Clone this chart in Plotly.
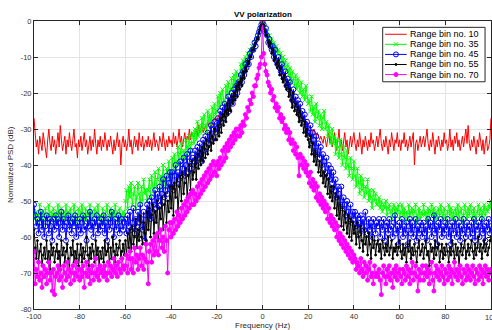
import plotly.graph_objects as go

# ---------------- data ----------------
freq_hz = [-100 + 0.5 * i for i in range(401)]

x_tick_vals = [-100, -80, -60, -40, -20, 0, 20, 40, 60, 80]
x_tick_text = ["-100", "-80", "-60", "-40", "-20", "0", "20", "40", "60", "80"]
x_last_tick = 100
x_last_tick_text = "100"
y_tick_vals = [0, -10, -20, -30, -40, -50, -60, -70, -80]
y_tick_text = ["0", "-10", "-20", "-30", "-40", "-50", "-60", "-70", "-80"]

series_names = ["Range bin no. 10", "Range bin no. 35", "Range bin no. 45",
                "Range bin no. 55", "Range bin no. 70"]

psd_bin10 = [
    -27, -31, -35, -33, -37, -32, -34, -36, -31, -33, -35, -38, -33, -30, -34, -36, -32, -35, -33, -37,
    -34, -31, -35, -29, -33, -36, -34, -32, -37, -33, -35, -31, -34, -36, -33, -30, -35, -34, -38, -33,
    -35, -32, -36, -34, -31, -35, -33, -37, -34, -32, -36, -33, -35, -30, -34, -37, -33, -35, -32, -36,
    -33, -35, -31, -34, -36, -33, -35, -32, -34, -37, -33, -36, -34, -31, -35, -33, -40, -34, -32, -35,
    -33, -36, -34, -30, -35, -33, -37, -34, -32, -35, -33, -36, -31, -34, -35, -32, -36, -34, -33, -35,
    -32, -35, -33, -36, -34, -31, -35, -33, -34, -36, -32, -34, -35, -31, -33, -36, -33, -35, -32, -34,
    -33, -35, -31, -34, -32, -35, -33, -30, -34, -32, -35, -33, -31, -34, -32, -33, -30, -33, -31, -32,
    -32, -31, -30, -32, -29, -31, -30, -29, -31, -30, -29, -30, -28, -29, -30, -28, -29, -28, -27, -28,
    -27, -27, -26, -25, -26, -25, -24, -23, -24, -23, -22, -22, -21, -21, -20, -20, -19, -19, -18, -18,
    -17, -16, -16, -15, -14, -14, -13, -12, -11, -11, -10, -9, -8, -7, -6, -5, -4, -3, -2, -1,
    0,
    -1, -2, -3, -4, -5, -6, -7, -8, -8, -9, -10, -11, -12, -12, -13, -14, -14, -15, -16, -16,
    -17, -18, -18, -19, -20, -20, -21, -22, -22, -23, -24, -24, -25, -26, -26, -27, -27, -28, -28, -29,
    -29, -30, -30, -31, -30, -31, -32, -31, -32, -33, -32, -33, -34, -32, -33, -35, -33, -31, -34, -32,
    -35, -33, -31, -34, -36, -33, -30, -35, -33, -36, -34, -31, -35, -33, -37, -34, -32, -35, -33, -31,
    -34, -36, -33, -35, -31, -34, -37, -33, -35, -32, -34, -36, -33, -35, -31, -34, -33, -36, -34, -32,
    -35, -33, -30, -34, -36, -33, -35, -32, -34, -37, -33, -35, -31, -34, -36, -33, -34, -31, -35, -33,
    -36, -33, -34, -31, -35, -33, -36, -34, -32, -35, -33, -31, -40, -34, -33, -36, -34, -32, -35, -33,
    -32, -35, -33, -30, -34, -36, -33, -35, -31, -34, -37, -33, -35, -32, -34, -36, -33, -35, -31, -34,
    -33, -36, -34, -30, -35, -33, -36, -32, -34, -31, -35, -33, -36, -34, -32, -35, -33, -30, -34, -29,
    -34, -36, -33, -35, -32, -34, -37, -33, -35, -31, -34, -36, -33, -37, -34, -32, -36, -35, -33, -27,
]

psd_bin35 = [
    -52, -55, -53, -56, -54, -51, -55, -53, -57, -54, -52, -55, -54, -51, -56, -53, -55, -52, -54, -56,
    -53, -51, -55, -54, -52, -56, -53, -55, -51, -54, -53, -56, -52, -55, -54, -51, -53, -56, -54, -52,
    -55, -53, -51, -54, -56, -52, -55, -53, -54, -51, -56, -53, -55, -52, -54, -53, -51, -55, -54, -56,
    -52, -54, -56, -53, -51, -55, -54, -52, -56, -53, -55, -51, -54, -53, -56, -52, -55, -54, -53, -55,
    -50, -47, -52, -46, -49, -45, -51, -48, -46, -52, -49, -45, -48, -51, -46, -50, -44, -48, -47, -50,
    -47, -44, -49, -43, -46, -48, -42, -46, -44, -41, -47, -43, -45, -40, -44, -46, -41, -43, -39, -44,
    -42, -38, -43, -37, -41, -39, -35, -40, -37, -34, -39, -36, -38, -33, -37, -35, -32, -36, -34, -31,
    -34, -30, -33, -28, -32, -29, -31, -27, -30, -26, -29, -31, -25, -28, -26, -29, -24, -27, -23, -26,
    -25, -21, -24, -20, -23, -19, -22, -24, -18, -21, -17, -20, -19, -16, -19, -15, -18, -14, -17, -15,
    -15, -12, -14, -11, -13, -10, -12, -9, -10, -8, -9, -7, -8, -6, -6, -5, -4, -3, -2, -1,
    0,
    -1, -2, -3, -3, -5, -4, -6, -5, -7, -6, -8, -7, -9, -8, -11, -9, -12, -10, -13, -11,
    -14, -12, -15, -13, -17, -14, -16, -18, -15, -19, -16, -18, -20, -17, -21, -19, -22, -18, -21, -23,
    -22, -25, -21, -26, -24, -28, -23, -27, -25, -29, -26, -30, -27, -25, -30, -28, -32, -29, -31, -34,
    -30, -34, -32, -37, -33, -35, -38, -33, -37, -40, -35, -38, -41, -36, -40, -43, -38, -41, -44, -39,
    -43, -46, -41, -45, -48, -43, -47, -44, -49, -46, -48, -44, -50, -47, -49, -52, -47, -50, -48, -51,
    -51, -49, -52, -50, -53, -51, -52, -50, -54, -52, -51, -53, -55, -52, -51, -54, -52, -53, -51, -55,
    -53, -51, -54, -52, -56, -53, -55, -51, -54, -53, -52, -55, -53, -51, -56, -54, -52, -55, -53, -54,
    -51, -54, -53, -56, -52, -55, -53, -51, -54, -52, -56, -53, -55, -52, -54, -51, -53, -55, -52, -54,
    -56, -53, -51, -54, -52, -55, -53, -56, -52, -54, -51, -55, -53, -52, -56, -54, -51, -53, -55, -52,
    -54, -51, -53, -55, -52, -54, -56, -53, -51, -54, -52, -55, -53, -51, -54, -52, -53, -51, -52, -50,
]

psd_bin45 = [
    -51, -54, -57, -55, -59, -56, -53, -58, -55, -60, -57, -54, -56, -59, -55, -57, -61, -55, -58, -54,
    -57, -55, -60, -56, -53, -58, -55, -57, -61, -56, -54, -58, -56, -59, -55, -57, -54, -60, -56, -58,
    -55, -59, -56, -54, -58, -57, -61, -55, -57, -53, -58, -56, -60, -55, -57, -54, -59, -56, -58, -55,
    -57, -54, -59, -56, -61, -55, -58, -56, -53, -57, -60, -55, -58, -56, -54, -59, -57, -55, -58, -56,
    -55, -59, -54, -57, -53, -58, -56, -52, -59, -55, -57, -53, -56, -51, -55, -58, -53, -61, -54, -51,
    -54, -50, -55, -49, -53, -51, -47, -52, -48, -50, -46, -51, -48, -44, -49, -47, -43, -48, -45, -42,
    -46, -42, -47, -43, -40, -45, -42, -44, -39, -43, -41, -38, -43, -40, -37, -42, -39, -36, -41, -38,
    -39, -36, -40, -35, -38, -34, -37, -39, -33, -36, -32, -35, -31, -34, -32, -29, -33, -30, -28, -31,
    -30, -27, -29, -25, -28, -24, -27, -23, -26, -24, -21, -25, -22, -20, -23, -19, -21, -18, -20, -17,
    -18, -15, -17, -14, -15, -12, -13, -11, -12, -9, -10, -8, -8, -6, -7, -5, -4, -3, -2, -1,
    0,
    -1, -3, -2, -4, -6, -5, -7, -8, -7, -10, -8, -11, -12, -10, -13, -14, -12, -15, -16, -14,
    -18, -16, -19, -17, -20, -22, -19, -23, -21, -24, -22, -26, -23, -27, -25, -28, -26, -30, -28, -31,
    -32, -29, -34, -31, -33, -36, -32, -37, -34, -38, -35, -40, -37, -39, -42, -38, -43, -40, -44, -41,
    -45, -42, -47, -44, -49, -46, -48, -51, -46, -52, -49, -51, -54, -50, -53, -55, -51, -56, -53, -55,
    -53, -57, -54, -56, -59, -54, -57, -55, -58, -53, -57, -59, -55, -58, -56, -60, -55, -57, -59, -56,
    -57, -55, -60, -56, -58, -55, -61, -57, -56, -59, -55, -58, -57, -60, -56, -54, -59, -57, -62, -56,
    -58, -55, -60, -57, -59, -56, -62, -57, -55, -59, -56, -60, -58, -55, -61, -57, -59, -56, -58, -60,
    -56, -59, -57, -61, -55, -58, -56, -60, -57, -54, -59, -57, -62, -56, -58, -55, -60, -57, -59, -56,
    -58, -55, -60, -57, -62, -56, -59, -57, -55, -60, -58, -56, -61, -57, -59, -55, -58, -60, -56, -58,
    -57, -60, -56, -59, -55, -61, -57, -58, -56, -60, -57, -55, -59, -57, -61, -56, -58, -55, -59, -57,
]

psd_bin55 = [
    -58, -63, -66, -61, -67, -64, -62, -68, -65, -63, -66, -61, -67, -64, -69, -62, -65, -63, -67, -64,
    -62, -66, -64, -68, -61, -65, -63, -67, -64, -62, -66, -69, -63, -65, -61, -67, -64, -66, -62, -68,
    -65, -62, -67, -63, -66, -64, -60, -65, -68, -63, -66, -62, -64, -67, -61, -65, -63, -68, -64, -66,
    -63, -67, -61, -65, -64, -62, -68, -63, -66, -60, -64, -67, -62, -65, -63, -61, -66, -64, -62, -65,
    -61, -65, -59, -63, -58, -64, -57, -62, -60, -55, -63, -58, -61, -54, -60, -62, -56, -59, -61, -53,
    -58, -52, -60, -54, -51, -59, -53, -56, -50, -61, -52, -55, -49, -58, -51, -48, -56, -50, -53, -46,
    -52, -46, -54, -45, -49, -44, -53, -46, -43, -50, -42, -48, -45, -41, -49, -43, -40, -47, -39, -44,
    -42, -38, -44, -37, -41, -36, -40, -35, -39, -34, -38, -33, -37, -35, -31, -36, -32, -34, -30, -33,
    -33, -29, -32, -27, -31, -26, -29, -25, -28, -23, -26, -22, -25, -21, -23, -20, -22, -18, -21, -17,
    -19, -16, -18, -14, -16, -13, -14, -11, -12, -10, -10, -8, -8, -7, -6, -5, -5, -3, -2, -1,
    0,
    -1, -3, -4, -4, -6, -7, -6, -9, -8, -11, -10, -12, -13, -11, -15, -13, -16, -17, -15, -18,
    -19, -17, -21, -19, -22, -24, -20, -25, -23, -26, -24, -28, -25, -29, -27, -31, -28, -32, -30, -33,
    -35, -32, -37, -34, -39, -36, -40, -37, -42, -39, -43, -40, -45, -42, -46, -43, -48, -44, -49, -46,
    -50, -46, -52, -48, -54, -49, -55, -51, -57, -52, -58, -53, -56, -59, -54, -60, -55, -61, -56, -59,
    -57, -62, -56, -60, -63, -57, -61, -64, -58, -62, -60, -65, -59, -62, -66, -60, -63, -61, -65, -62,
    -61, -64, -62, -66, -61, -63, -65, -62, -64, -60, -65, -63, -61, -66, -63, -64, -62, -65, -63, -61,
    -64, -66, -62, -65, -63, -67, -62, -64, -61, -66, -63, -65, -62, -64, -67, -63, -61, -65, -64, -62,
    -66, -63, -61, -65, -64, -68, -62, -64, -63, -66, -61, -65, -63, -62, -67, -64, -62, -66, -63, -65,
    -62, -64, -67, -63, -65, -61, -64, -66, -62, -65, -63, -68, -64, -62, -65, -63, -61, -66, -64, -62,
    -65, -63, -61, -64, -66, -62, -65, -63, -60, -64, -62, -66, -63, -61, -64, -62, -65, -63, -61, -60,
]

psd_bin70 = [
    -64, -73, -69, -71, -67, -72, -70, -74, -68, -71, -69, -73, -70, -67, -72, -70, -75, -69, -76, -71,
    -70, -68, -72, -69, -71, -74, -68, -70, -72, -67, -71, -69, -73, -70, -68, -72, -70, -67, -71, -69,
    -72, -69, -71, -68, -74, -70, -67, -71, -69, -73, -70, -68, -72, -70, -66, -71, -69, -72, -68, -70,
    -69, -71, -68, -70, -72, -67, -70, -68, -71, -69, -66, -70, -68, -71, -67, -69, -70, -66, -68, -69,
    -68, -65, -70, -66, -64, -69, -66, -70, -63, -67, -65, -69, -66, -63, -68, -65, -69, -66, -62, -67,
    -73, -64, -62, -67, -61, -65, -60, -64, -59, -65, -61, -58, -63, -60, -64, -57, -61, -70, -58, -56,
    -60, -56, -59, -55, -58, -53, -57, -54, -56, -52, -55, -51, -54, -50, -53, -49, -52, -48, -51, -47,
    -51, -48, -50, -46, -49, -45, -48, -44, -47, -43, -46, -42, -45, -41, -44, -40, -43, -39, -42, -40,
    -43, -39, -41, -38, -40, -36, -39, -35, -38, -34, -36, -33, -35, -32, -34, -31, -33, -30, -32, -30,
    -32, -29, -31, -28, -29, -26, -27, -24, -25, -22, -23, -20, -21, -18, -18, -16, -15, -13, -12, -10,
    0,
    -9, -12, -14, -15, -17, -18, -20, -19, -22, -21, -24, -23, -25, -24, -27, -26, -28, -27, -30, -29,
    -31, -30, -33, -31, -34, -33, -36, -34, -37, -35, -38, -43, -37, -40, -38, -41, -39, -42, -40, -43,
    -45, -42, -46, -44, -47, -45, -49, -46, -50, -48, -51, -49, -52, -50, -53, -51, -55, -52, -56, -54,
    -57, -55, -58, -56, -60, -57, -61, -59, -62, -60, -63, -61, -64, -62, -65, -63, -66, -64, -67, -65,
    -66, -69, -67, -68, -70, -66, -69, -71, -67, -70, -68, -72, -69, -67, -71, -70, -73, -68, -71, -70,
    -71, -69, -72, -76, -70, -68, -71, -73, -69, -71, -68, -72, -70, -74, -69, -71, -68, -72, -70, -69,
    -71, -73, -69, -70, -72, -68, -71, -69, -73, -70, -67, -72, -70, -68, -71, -75, -69, -72, -70, -68,
    -72, -70, -68, -71, -69, -73, -70, -67, -72, -75, -70, -68, -71, -69, -72, -70, -68, -71, -73, -69,
    -70, -72, -68, -71, -69, -73, -70, -67, -71, -69, -72, -70, -68, -71, -73, -69, -70, -72, -68, -71,
    -69, -72, -70, -68, -71, -73, -69, -70, -72, -68, -71, -69, -73, -70, -68, -71, -69, -72, -70, -69,
]

all_series = [psd_bin10, psd_bin35, psd_bin45, psd_bin55, psd_bin70]
for s in all_series:
    assert len(s) == len(freq_hz), len(s)

# ---------------- styles ----------------
FONT = "Liberation Sans, Arial, Helvetica, sans-serif"
AX = "#262626"
TICK_FONT = dict(family=FONT, size=7.5, color="#333333")
styles = [
    dict(color="#FF0000", mode="lines", symbol=None, size=0),
    dict(color="#00FF00", mode="lines+markers", symbol="x-thin", size=4),
    dict(color="#0000FF", mode="lines+markers", symbol="circle-open", size=5),
    dict(color="#000000", mode="lines+markers", symbol="circle", size=2),
    dict(color="#FF00FF", mode="lines+markers", symbol="circle", size=4),
]

fig = go.Figure()
for name, vals, st in zip(series_names, all_series, styles):
    kw = dict(x=freq_hz, y=vals, name=name, mode=st["mode"], showlegend=False,
              line=dict(color=st["color"], width=1))
    if st["symbol"]:
        kw["marker"] = dict(symbol=st["symbol"], size=st["size"], color=st["color"],
                            line=dict(color=st["color"], width=1))
    fig.add_trace(go.Scatter(**kw))

# ---------------- manual legend (overlay axes in plot-area fractions) ----------------
lg_x0, lg_x1, lg_y0, lg_y1 = 0.763, 0.987, 0.789, 0.978
lg_rows = [0.954, 0.919, 0.884, 0.849, 0.814]
fig.add_trace(go.Scatter(x=[lg_x0, lg_x1, lg_x1, lg_x0, lg_x0],
                         y=[lg_y0, lg_y0, lg_y1, lg_y1, lg_y0],
                         fill="toself", fillcolor="white", mode="lines",
                         line=dict(color=AX, width=1), xaxis="x2", yaxis="y2",
                         showlegend=False, hoverinfo="skip"))
for name, st, yy in zip(series_names, styles, lg_rows):
    fig.add_trace(go.Scatter(x=[0.768, 0.8155], y=[yy, yy], mode="lines",
                             line=dict(color=st["color"], width=1), xaxis="x2", yaxis="y2",
                             showlegend=False, hoverinfo="skip"))
    if st["symbol"]:
        fig.add_trace(go.Scatter(x=[0.792], y=[yy], mode="markers",
                                 marker=dict(symbol=st["symbol"], size=st["size"], color=st["color"],
                                             line=dict(color=st["color"], width=1)),
                                 xaxis="x2", yaxis="y2", showlegend=False, hoverinfo="skip"))
    fig.add_annotation(x=0.819, y=yy, xref="x2", yref="y2", text=name, showarrow=False,
                       xanchor="left", yanchor="middle", font=dict(family=FONT, size=9, color="#000000"))

axis_common = dict(showline=True, linecolor=AX, linewidth=1, mirror="ticks",
                   ticks="inside", ticklen=4, tickcolor=AX, tickwidth=1,
                   showgrid=True, gridcolor="#e4e4e4", gridwidth=1, zeroline=False,
                   tickfont=TICK_FONT)

fig.update_layout(
    width=492, height=330, autosize=False,
    margin=dict(l=34, r=1, t=21, b=21, pad=0),
    paper_bgcolor="white", plot_bgcolor="white",
    font=dict(family=FONT, size=8, color=AX),
    xaxis=dict(range=[-100, 100], tickvals=x_tick_vals, ticktext=x_tick_text, **axis_common),
    yaxis=dict(range=[-80, 0], tickvals=y_tick_vals, ticktext=y_tick_text, **axis_common),
    xaxis2=dict(range=[0, 1], domain=[0, 1], overlaying="x", anchor="y2", visible=False, fixedrange=True),
    yaxis2=dict(range=[0, 1], domain=[0, 1], overlaying="y", anchor="x2", visible=False, fixedrange=True),
    showlegend=False,
)

# last x tick label (at the very edge of the figure, partly cut as in the original)
fig.add_annotation(text=x_last_tick_text, xref="x", yref="paper", x=x_last_tick, y=-0.0295,
                   showarrow=False, xanchor="center", yanchor="middle", font=TICK_FONT)

fig.add_annotation(text="<b>VV polarization</b>", xref="paper", yref="paper", x=0.5, y=1.023,
                   showarrow=False, xanchor="center", yanchor="middle",
                   font=dict(family=FONT, size=8, color="#000000"))
fig.add_annotation(text="Frequency (Hz)", xref="paper", yref="paper", x=0.5, y=-0.059,
                   showarrow=False, xanchor="center", yanchor="middle",
                   font=dict(family=FONT, size=8, color=AX))
fig.add_annotation(text="Normalized PSD (dB)", xref="paper", yref="paper", x=-0.0525, y=0.5,
                   showarrow=False, textangle=-90, xanchor="center", yanchor="middle",
                   font=dict(family=FONT, size=8, color=AX))

fig.write_html("out.html", config={"displayModeBar": False},
               post_script="document.body.style.margin='0px';")
